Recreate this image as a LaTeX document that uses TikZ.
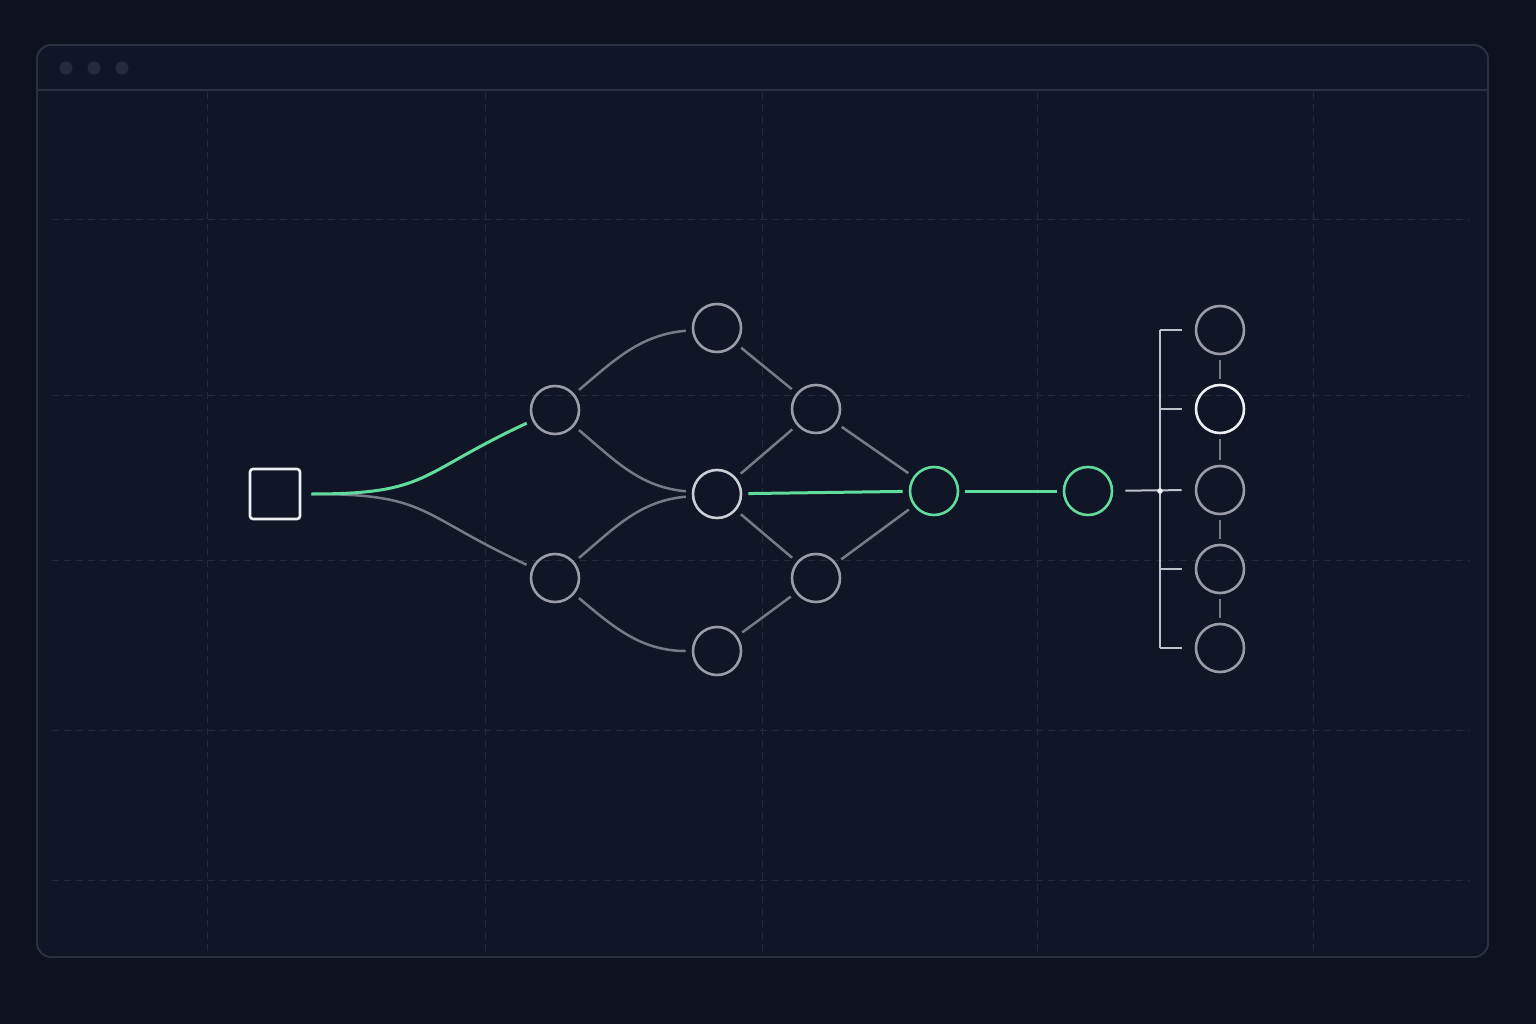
\documentclass[tikz,border=0pt]{standalone}
\usepackage{tikz}
\definecolor{bgdark}{HTML}{0E121E}
\definecolor{winfill}{HTML}{111626}
\definecolor{winline}{HTML}{2A3142}
\definecolor{gridline}{HTML}{232A39}
\definecolor{windot}{HTML}{252B3A}
\definecolor{ringgrey}{HTML}{9A9DA7}
\definecolor{linkgrey}{HTML}{777B87}
\definecolor{ringwhite}{HTML}{ECEEF2}
\definecolor{pathgreen}{HTML}{62DC9D}
\definecolor{brackgrey}{HTML}{BFC2C9}

\begin{document}
\begin{tikzpicture}[x=1pt,y=1pt,
		ring/.style={circle,draw=ringgrey,line width=2.6pt,minimum size=48pt,inner sep=0pt},
		link/.style={draw=linkgrey,line width=2.5pt,shorten <=6pt,shorten >=6pt},
		hot/.style={draw=pathgreen,line width=3pt,shorten <=6pt,shorten >=6pt}]
		\fill[bgdark] (0,0) rectangle (1536,-1024);
		\useasboundingbox (0,0) rectangle (1536,-1024);
		% window
		\draw[winline,fill=winfill,line width=2pt,rounded corners=14pt] (37,-45) rectangle (1488,-957);
		\draw[winline,line width=2pt] (37,-90) -- (1488,-90);
		\foreach \x in {66,94,122} \fill[windot] (\x,-68) circle (6.5);
		\foreach \y in {220,395,560,730,880} \draw[gridline,line width=1pt,dash pattern=on 7pt off 5pt] (52,-\y) -- (1470,-\y);
		\foreach \x in {207,485,762,1037,1313} \draw[gridline,line width=1pt,dash pattern=on 7pt off 5pt] (\x,-92) -- (\x,-955);
		%
		\node[draw=ringwhite,line width=2.6pt,minimum size=50pt,inner sep=0pt,rounded corners=3pt] (S) at (275,-494) {};
		\node[ring] (A) at (555,-410) {};
		\node[ring] (A') at (555,-578) {};
		\node[ring] (B) at (717,-328) {};
		\node[ring,draw=ringwhite!60!ringgrey] (B') at (717,-494) {};
		\node[ring] (B'') at (717,-651) {};
		\node[ring] (C) at (816,-409) {};
		\node[ring] (C') at (816,-578) {};
		\node[ring,draw=pathgreen] (D) at (934,-491) {};
		\node[ring,draw=pathgreen] (E) at (1088,-491) {};
		\node[ring] (R1) at (1220,-330) {};
		\node[ring,draw=ringwhite] (R2) at (1220,-409) {};
		\node[ring] (R3) at (1220,-490) {};
		\node[ring] (R4) at (1220,-569) {};
		\node[ring] (R5) at (1220,-648) {};
		\coordinate (J) at (1160,-491);
		%
		\path[link]
		(S) edge[out=0,in=155,looseness=1.35,shorten <=10pt] (A')
		(A) edge[out=40,in=185] (B)
		(A) edge[out=-40,in=175] (B')
		(A') edge[out=40,in=185] (B')
		(A') edge[out=-40,in=180] (B'')
		(B) edge (C)
		(B') edge (C)
		(B') edge (C')
		(B'') edge (C')
		(C) edge (D)
		(C') edge (D);
		\path[hot]
		(S) edge[out=0,in=205,looseness=1.35,shorten <=10pt] (A)
		(B') edge (D)
		(D) edge (E);
		%
		\path[draw=linkgrey,line width=2pt,shorten <=5pt,shorten >=5pt]
		(R1) edge (R2)
		(R2) edge (R3)
		(R3) edge (R4)
		(R4) edge (R5);
		\draw[brackgrey,line width=2pt,shorten <=12pt,shorten >=13pt] (E) -- (R3.west);
		\draw[brackgrey,line width=2pt] (R1 -| J) -- (R5 -| J);
		\foreach \i in {1,2,4,5} \draw[brackgrey,line width=2pt,shorten >=13pt] (R\i -| J) -- (R\i.west);
		\fill[ringwhite] (J) circle (2.8);
\end{tikzpicture}
\end{document}
